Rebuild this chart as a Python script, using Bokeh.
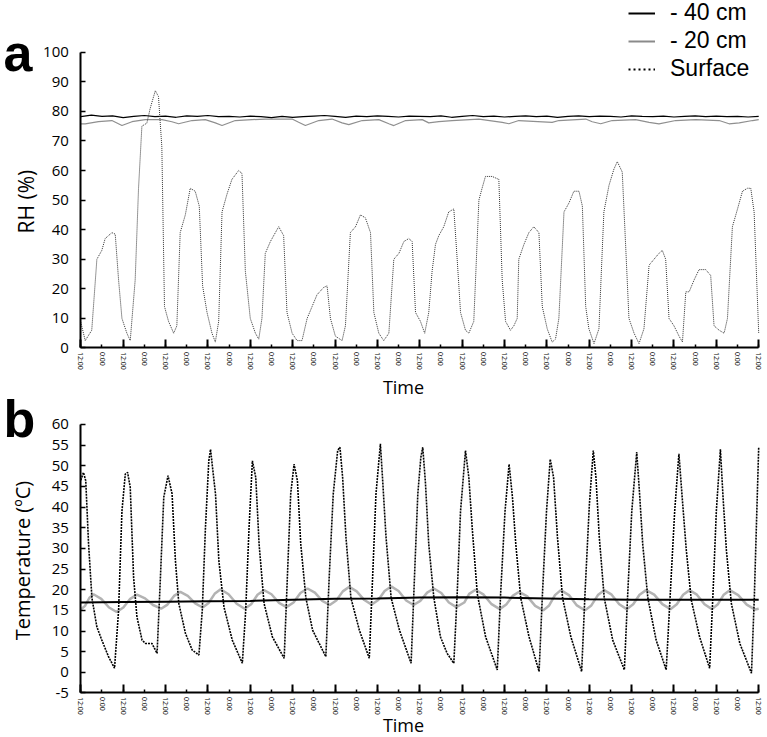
from bokeh.plotting import figure
from bokeh.models import FixedTicker, Label, Legend, LegendItem, LinearAxis, Range1d
from bokeh.embed import file_html
from bokeh.resources import INLINE

# ---------------- data (hours after the first 12:00) ----------------
tick_labels = ["12:00", "0:00"] * 16 + ["12:00"]
tick_hours = [i * 12 for i in range(len(tick_labels))]
noon_hours = tick_hours[::2]

rh_surf_h = [0, 1.5, 2.5, 6.2, 9.1, 11.9, 13.8, 17.6, 19.5, 21.4, 23.3, 26.1, 28,
             30.8, 32.7, 34.6, 37.4, 39.3, 42.2, 44, 45.9, 47.4, 49.7, 52.6, 54.4,
             56.3, 59.2, 62, 64.8, 67.1, 69, 71.5, 74.3, 76.2, 78.1,
             80, 82.8, 85.6, 89.4, 91.3, 93.2, 96, 98.9, 100.8, 102.6,
             104.5, 107.4, 110.2, 112.1, 114.9, 116.8, 119.7, 122.5, 125.3, 128.2,
             131, 133.8, 137.6, 139.5, 141.4, 144.2, 148, 149.9,
             152.7, 155.6, 158.4, 161.2, 164.1, 166, 168.8, 171.6, 174.5,
             177.3, 180.2, 183, 185.8, 187.7, 189.6, 192.4, 194.8, 197.1,
             199, 200.9, 202.8, 205.6, 208.4, 211.3, 213.2, 215.1, 217.9, 219.8, 222.6,
             225.5, 227.3, 229.2, 233, 236.8, 238.7, 240.6, 243.4, 245.3, 247.2,
             248.1, 251, 253.8, 256.6, 259.5, 261.4, 264.2, 267, 268.9, 270.8,
             273.7, 276.5, 279.3, 282.2, 284.1, 286, 287.8, 290.7, 293.5,
             296.3, 299.2, 302, 303.9, 306.7, 308.6, 310.5, 313.4, 316.2, 319,
             321.9, 324.7, 327.5, 329.4, 331.3, 333.2, 336, 338.9, 340.8,
             342.7, 344.6, 347.4, 350.2, 354, 356.8, 358.7, 361.6, 364.4, 366.3,
             369.1, 372, 374.8, 377.6, 379.5, 381.4, 384]
rh_surf_v = [8.7, 5, 2.5, 6, 30, 33, 37, 39, 38.5, 23, 10, 5, 2.5,
             23, 54, 75, 76, 81, 87, 85, 68, 14, 9, 5, 7.5,
             39, 45, 54, 53, 48, 21, 12, 5, 2, 9,
             46, 52, 57, 60, 59, 26, 10, 5, 3, 10,
             32, 36, 39, 41, 38, 12, 5, 2.5, 2.5, 10,
             14, 18, 20.5, 21, 10, 4, 2.5, 7.5,
             39, 41, 45, 44, 39, 12, 5, 2.5, 5,
             30, 32, 36, 37, 36, 12, 9, 5, 12,
             26, 35, 38, 41, 46, 47, 30, 12, 6, 5, 9,
             50, 54, 58, 58, 57, 23, 9, 6, 7.5, 10,
             30, 35, 39, 41, 39, 14, 6.5, 2, 3, 10,
             46, 49, 53, 53, 48, 14, 6.5, 1.5, 6.5,
             46, 55, 60.5, 63, 59.5, 35, 10, 5, 1.5, 6.5,
             28, 30, 32, 33, 30, 10, 7.5, 4, 2,
             19, 19, 23, 26.5, 26.5, 24.5, 7.5, 6, 5, 10,
             41, 47, 53, 54, 54, 46, 5]

rh_40_h = [i * 6 for i in range(65)]
rh_40_v = [78.2, 78.7, 78.3, 78.5, 77.9, 78.3, 78.6, 78.2, 78.4, 78.0, 78.5, 78.3, 78.6,
           78.2, 78.3, 78.1, 78.4, 78.2, 77.9, 78.3, 78.0, 78.2, 78.4, 78.6, 78.3, 78.0,
           78.4, 78.2, 78.5, 78.3, 78.1, 78.4, 78.3, 78.2, 78.5, 78.0, 78.3, 78.6, 78.2,
           78.4, 78.1, 78.3, 78.5, 78.2, 78.4, 78.0, 78.3, 78.5, 78.2, 78.4, 78.3, 78.1,
           78.5, 78.3, 78.2, 78.4, 78.1, 78.3, 78.5, 78.2, 78.4, 78.2, 78.3, 78.1, 78.3]

rh_20_h = [0, 2.5, 10, 17.6, 23.3, 29, 36.5, 46, 51.6, 55.4, 63, 70.5, 76.2, 80, 87.5, 97,
           104.5, 119.7, 123.4, 127.2, 134.8, 142.3, 148, 151.8, 159.4, 168.8, 174.5, 177.3,
           184, 193.4, 197.1, 202.8, 210.3, 225.5, 238.7, 242.5, 248.1, 267, 270.8, 286,
           289.7, 294.5, 301, 314.3, 321.9, 327.5, 337, 348.3, 361.6, 367.2, 373, 380.5, 384]
rh_20_v = [75.8, 75.8, 76.5, 76.9, 75.2, 76.5, 77.2, 77.2, 76.5, 75.8, 76.9, 77.2, 76.1, 75.2,
           76.9, 77.2, 77.4, 77.4, 76.3, 75.2, 76.9, 77.4, 76.1, 75.5, 76.9, 77.2, 75.8, 75.2,
           76.9, 77.2, 76.1, 76.5, 76.9, 77.4, 76.3, 75.8, 76.9, 76.3, 76.9, 77.4,
           76.5, 75.8, 76.9, 77.2, 76.3, 75.8, 76.9, 77.2, 76.9, 75.8, 76.1, 76.9, 77.2]

t_surf_h = [0, 1.5, 2.8, 4.4, 6.3, 9.1, 11.9, 15.7, 19.1, 21.4, 23.3, 25.2, 26.5, 28,
            29.9, 31.8, 34.7, 36.6, 40.3, 43.2, 45.1, 47, 49.4, 51.7, 53.6, 55.5, 59.3,
            63.1, 66.9, 68.8, 70.6, 72.5, 73.5, 74.4, 76.3, 78.2, 81.1, 85.8, 91.5,
            93.4, 95.3, 97.2, 99.1, 101, 103.8, 108.5, 115.2, 117, 118.9, 120.8, 122.7,
            124.6, 127.5, 131.3, 138.8, 140.7, 143, 145.5, 146.8, 148.3, 150.2, 153,
            157.8, 163.4, 165.3, 167.2, 169.7, 171, 172.9, 175.8, 180.5, 187.1, 189,
            190.9, 192.6, 193.7, 195.2, 197.1, 200, 203.7, 207.5, 211.3, 213.2, 215.1,
            217.9, 219.8, 221.7, 224.6, 229.3, 235.9, 237.8, 240.3, 242.6, 244.5, 246.4,
            249.2, 253.9, 259.6, 261.5, 263.8, 265.9, 267.8, 270, 272.9, 277.6, 283.7,
            285.6, 288.1, 290.3, 291.8, 293.7, 296.5, 301.3, 307.9, 309.8, 312.1, 314.9,
            316.4, 318.3, 321.2, 325.9, 331.6, 333.9, 336.4, 338.8, 340.5, 343, 345.8,
            350.5, 356.2, 358.1, 360, 362.3, 363.8, 365.7, 368.5, 373.3, 379.9, 381.5,
            383, 384]
t_surf_v = [46.5, 48.4, 46.4, 31, 18, 11, 7.8, 3.8, 1, 15, 39, 48, 48.4, 44.8,
            23, 13.4, 7.8, 7, 7, 4.6, 23, 42.4, 47.6, 43.2, 27, 16.7, 9.4,
            5.4, 4.2, 15, 35, 51.2, 54, 50.4, 43.2, 27, 15.8, 7.8, 2.2,
            15, 35, 51.2, 47.2, 31, 16.7, 8.6, 3.4, 23, 43.2, 50.4, 46.4,
            31, 18, 10.2, 3.8, 23, 43.2, 53.7, 54.5, 47.2, 32.7, 18,
            10.2, 3.4, 23, 43.2, 55.3, 46.4, 32.7, 18, 10.2, 2.2, 23,
            43.2, 52, 54.5, 46, 31, 18, 8.6, 4.6, 2.2, 19, 39,
            53.7, 47.2, 35, 19, 8.6, 0.6, 19, 39, 50.4, 42.4, 31,
            18, 8.6, 0.2, 19, 39, 51.6, 47.2, 32.7, 18, 8.6, 0.2,
            19, 40.8, 53.7, 47.2, 32.7, 18, 7.8, 0.6, 19, 39, 53.3,
            44, 31, 18, 7.8, 0.6, 19, 39, 52.9, 43.2, 29.5, 17.5,
            8.6, 1, 19, 39, 54, 42.4, 29.5, 16.7, 7, -0.2, 18,
            40, 54.5]

t_40_h = [i * 24 for i in range(17)]
t_40_v = [16.9, 17.0, 17.1, 17.2, 17.3, 17.6, 17.8, 17.9, 18.1, 18.2, 18.1, 17.9, 17.7,
          17.6, 17.6, 17.6, 17.6]

t_20_h = [0, 2.4, 4.8, 7.2, 11.6, 16.0, 20.3, 24.1, 28.0, 31.8, 36.4, 40.9, 45.5,
          49.1, 52.8, 56.4, 60.6, 64.8, 69.0, 72.4, 75.8, 79.2, 83.7, 88.3, 92.8,
          96.5, 100.1, 103.8, 108.0, 112.3, 116.5, 120.5, 124.4, 128.4, 132.6, 136.8, 141.0,
          144.7, 148.4, 152.1, 156.3, 160.6, 164.8, 168.5, 172.1, 175.8, 180.0, 184.3, 188.5,
          192.3, 196.2, 200.0, 204.2, 208.5, 212.7, 217.2, 220.0, 223.6, 228.2, 232.7, 237.3,
          241.0, 244.6, 248.3, 252.9, 257.4, 262.0, 265.3, 268.6, 271.9, 276.5, 281.0, 285.6,
          289.2, 292.9, 296.5, 300.7, 305.0, 309.2, 312.9, 316.5, 320.2, 324.8, 329.4, 334.0,
          337.6, 341.2, 344.8, 349.0, 353.3, 357.5, 360.9, 364.2, 367.6, 372.4, 377.2, 382.0,
          384]
t_20_v = [15.2, 16.1, 18.0, 18.9, 17.8, 15.7, 14.6, 15.7, 17.8, 18.8, 17.9, 16.3, 15.4,
          16.4, 18.5, 19.5, 18.5, 16.7, 15.7, 16.8, 19.0, 20.1, 18.9, 16.6, 15.4,
          16.5, 18.8, 19.9, 18.9, 16.8, 15.8, 16.9, 19.2, 20.3, 19.3, 17.3, 16.3,
          17.4, 19.6, 20.7, 19.6, 17.5, 16.4, 17.5, 19.7, 20.8, 19.7, 17.4, 16.3,
          17.3, 19.3, 20.3, 19.2, 16.9, 15.8, 16.9, 19.0, 20.0, 18.8, 16.5, 15.3,
          16.4, 18.5, 19.5, 18.4, 16.1, 15.0, 16.2, 18.7, 19.9, 18.7, 16.2, 15.0,
          16.2, 18.7, 19.9, 18.8, 16.5, 15.3, 16.5, 18.8, 19.9, 18.8, 16.5, 15.3,
          16.5, 18.8, 19.9, 18.8, 16.5, 15.3, 16.5, 18.8, 19.9, 18.7, 16.4, 15.2,
          15.4]

rh_ticks = [0, 10, 20, 30, 40, 50, 60, 70, 80, 90, 100]
t_ticks = [-5, 0, 5, 10, 15, 20, 25, 30, 35, 40, 45, 50, 55, 60]
legend_labels = ["- 40 cm", "- 20 cm", "Surface"]

FONT = "Open Sans"
NAN = float("nan")

# One canvas holds both panels: panel a uses the default y range, panel b the "b" range.
p = figure(width=767, height=737, x_range=(-45.49, 388.98), y_range=(-131.68, 117.48),
           output_backend="svg", toolbar_location=None,
           min_border_left=0, min_border_right=0, min_border_top=0, min_border_bottom=0)
p.extra_y_ranges = {"b": Range1d(-15.773, 162.64)}
p.outline_line_color = None
p.grid.visible = False
p.background_fill_color = "white"
p.border_fill_color = "white"


def style_x(xa, loc):
    xa.fixed_location = loc
    xa.bounds = (0, 384)
    xa.ticker = FixedTicker(ticks=tick_hours, minor_ticks=noon_hours)
    xa.major_label_overrides = {h: lab for h, lab in zip(tick_hours, tick_labels)}
    xa.major_label_orientation = "vertical"
    xa.major_label_text_font = FONT
    xa.major_label_text_font_size = "7px"
    xa.major_label_text_color = "black"
    xa.major_label_standoff = 4
    xa.major_tick_in = 3
    xa.major_tick_out = 0
    xa.minor_tick_in = 8
    xa.minor_tick_out = 0
    xa.major_tick_line_width = 1.5
    xa.minor_tick_line_width = 2
    xa.major_tick_line_color = "black"
    xa.minor_tick_line_color = "black"
    xa.axis_line_width = 2
    xa.axis_line_color = "black"


def style_y(ya, yticks, bounds):
    ya.fixed_location = 0
    ya.bounds = bounds
    ya.ticker = FixedTicker(ticks=yticks)
    ya.major_label_overrides = {t: str(t) for t in yticks}
    ya.major_tick_in = 5
    ya.major_tick_out = 0
    ya.major_tick_line_width = 1.5
    ya.major_tick_line_color = "black"
    ya.minor_tick_line_color = None
    ya.axis_line_width = 2
    ya.axis_line_color = "black"
    ya.major_label_text_font = FONT
    ya.major_label_text_font_size = "15px"
    ya.major_label_text_color = "black"
    ya.major_label_standoff = 12


style_x(p.xaxis[0], 0)
style_y(p.yaxis[0], rh_ticks, (0, 100))
xb = LinearAxis(y_range_name="b")
yb = LinearAxis(y_range_name="b")
style_x(xb, -5)
style_y(yb, t_ticks, (-5, 60))
p.add_layout(xb, "below")
p.add_layout(yb, "left")


def text_label(x, y, text, size, font=FONT, bold=False, angle=0, align="center",
               range_name="default"):
    p.add_layout(Label(x=x, y=y, text=text, text_font=font, y_range_name=range_name,
                       text_font_style="bold" if bold else "normal",
                       text_font_size=size, text_color="black", angle=angle,
                       text_align=align, text_baseline="middle"))


# ---------------- panel a ----------------
p.line(rh_20_h, rh_20_v, line_color="#8f8f8f", line_width=1.2)
p.line(rh_40_h, rh_40_v, line_color="black", line_width=1.2)
p.line(rh_surf_h, rh_surf_v, line_color="#333333", line_width=1, line_dash="1 1")

# legend-only renderers (a single NaN point: nothing is drawn in the plot)
leg40 = p.line([NAN], [NAN], line_color="black", line_width=2)
leg20 = p.line([NAN], [NAN], line_color="#8a8a8a", line_width=2)
legs = p.line([NAN], [NAN], line_color="black", line_width=2, line_dash="2 3")
legend = Legend(items=[LegendItem(label=legend_labels[0], renderers=[leg40]),
                       LegendItem(label=legend_labels[1], renderers=[leg20]),
                       LegendItem(label=legend_labels[2], renderers=[legs])],
                location=(628, 655), orientation="vertical",
                label_text_font="Liberation Sans", label_text_font_size="23px",
                label_text_color="black", glyph_width=27, glyph_height=20,
                label_standoff=15, spacing=1, padding=0, margin=0,
                border_line_color=None, background_fill_alpha=0)
p.add_layout(legend)

text_label(-43.8, 99.9, "a", "52px", font="Liberation Sans", bold=True, align="left")
text_label(-31.3, 49.5, "RH (%)", "21px", angle=1.5708)
text_label(182.8, -13.35, "Time", "18px")

# ---------------- panel b ----------------
p.line(t_20_h, t_20_v, line_color="#b3b3b3", line_width=2.5, y_range_name="b")
p.line(t_40_h, t_40_v, line_color="black", line_width=2, y_range_name="b")
p.line(t_surf_h, t_surf_v, line_color="black", line_width=1.6, line_dash="2 1",
       y_range_name="b")

text_label(-43.8, 61.45, "b", "52px", font="Liberation Sans", bold=True, align="left",
           range_name="b")
text_label(-33.0, 27.08, "Temperature (ºC)", "20px", angle=1.5708, range_name="b")
text_label(182.8, -12.63, "Time", "18px", range_name="b")

open("out.html", "w").write(file_html(p, INLINE))
